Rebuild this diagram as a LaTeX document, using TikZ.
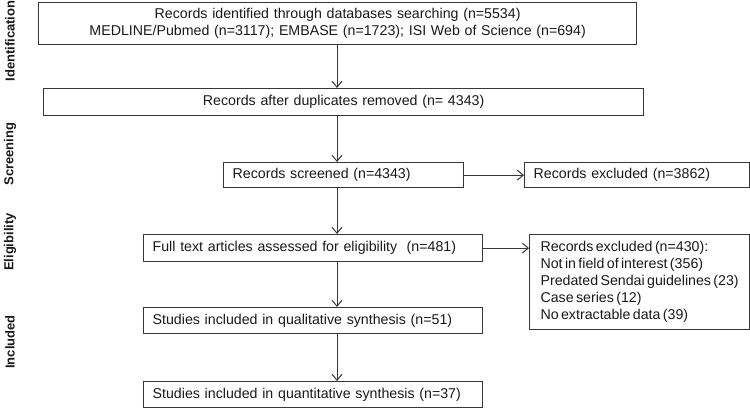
\documentclass[tikz,border=0pt]{standalone}
\usepackage{fontspec}
\setmainfont{Liberation Sans}[WordSpace=0.6]
\usetikzlibrary{arrows.meta}

\definecolor{boxline}{RGB}{55,55,55}
\definecolor{boxtext}{RGB}{25,25,25}

\tikzset{every picture/.style={line width=1.3pt}}
\tikzset{
	flowbox/.style={draw=boxline, anchor=north west, inner xsep=9pt, inner ysep=0pt, text=boxtext, font=\fontsize{14.2}{17}\selectfont},
	stagelabel/.style={rotate=90, text=boxtext, font=\fontsize{13}{15}\selectfont\bfseries},
	flowarrow/.style={draw=boxline, line width=1pt, -{Straight Barb[length=6pt,width=10pt,line width=1pt]}}
}

\begin{document}
\begin{tikzpicture}[x=1pt,y=1pt,yscale=-1,xscale=1]
	\useasboundingbox (0,0) rectangle (750,409);
	
	%Column of the main arrows
	\coordinate (col) at (337,0);
	
	%Shape: Rectangle [id:identified]
	\node (ident) at (38,2) [flowbox, text width=580pt, minimum height=42pt, align=center] {Records identified through databases searching (n=5534)\\MEDLINE/Pubmed (n=3117); EMBASE (n=1723); ISI Web of Science (n=694)};
	%Shape: Rectangle [id:duplicates]
	\node (dupl) at (43,88) [flowbox, text width=582pt, minimum height=27pt, align=center] {Records after duplicates removed (n= 4343)};
	%Shape: Rectangle [id:screened]
	\node (screen) at (223,162) [flowbox, text width=222pt, minimum height=25pt, align=left] {Records screened (n=4343)};
	%Shape: Rectangle [id:excluded1]
	\node (excla) at (524,162) [flowbox, text width=207pt, minimum height=25pt, align=left] {Records excluded (n=3862)};
	%Shape: Rectangle [id:fulltext]
	\node (fulltext) at (143,234) [flowbox, text width=321pt, minimum height=27pt, align=left] {Full text articles assessed for eligibility ~(n=481)};
	%Shape: Rectangle [id:excluded2]
	\node (exclb) at (529,234) [flowbox, inner xsep=0pt, minimum width=220pt, minimum height=95pt, align=left] {Records excluded (n=430):\\Not in field of interest (356)\\Predated Sendai guidelines (23)\\Case series (12)\\No extractable data (39)};
	%Shape: Rectangle [id:qualitative]
	\node (qual) at (143,307) [flowbox, text width=321pt, minimum height=26pt, align=left] {Studies included in qualitative synthesis (n=51)};
	%Shape: Rectangle [id:quantitative]
	\node (quant) at (143,381) [flowbox, text width=321pt, minimum height=26pt, align=left] {Studies included in quantitative synthesis (n=37)};
	
	%Straight Lines
	\draw [flowarrow] (ident.south -| col) -- (dupl.north -| col);
	\draw [flowarrow] (dupl.south -| col) -- (screen.north -| col);
	\draw [flowarrow] (screen.south -| col) -- (fulltext.north -| col);
	\draw [flowarrow] (fulltext.south -| col) -- (qual.north -| col);
	\draw [flowarrow] (qual.south -| col) -- (quant.north -| col);
	\draw [flowarrow] (screen.east) -- (excla.west);
	\draw [flowarrow] (fulltext.east) -- (fulltext.east -| exclb.west);
	
	% Text Node
	\node (lident) at (10,41) [stagelabel] {Identification};
	% Text Node
	\node (lscreen) at (10,154) [stagelabel] {Screening};
	% Text Node
	\node (lelig) at (10,242) [stagelabel] {Eligibility};
	% Text Node
	\node (lincl) at (10,342) [stagelabel] {Included};
	
\end{tikzpicture}
\end{document}
